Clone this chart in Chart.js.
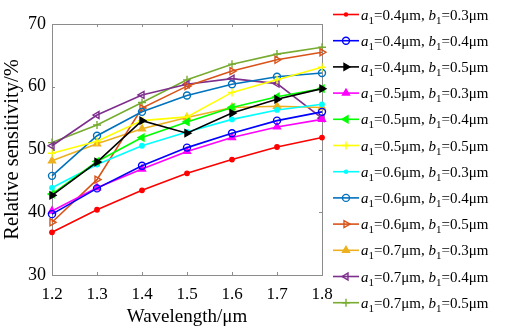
<!DOCTYPE html>
<html><head><meta charset="utf-8">
<script src="https://cdn.jsdelivr.net/npm/chart.js@4/dist/chart.umd.min.js"></script>
<style>html,body{margin:0;padding:0;background:#fff}#wrap{width:509px;height:328px}</style>
</head><body><div id="wrap"><canvas id="c" width="509" height="328"></canvas></div>
<script>
const wavelengths = ['1.2','1.3','1.4','1.5','1.6','1.7','1.8'];
const yTicks = [30,40,50,60,70];
const a1Values = ['0.4','0.4','0.4','0.5','0.5','0.5','0.6','0.6','0.6','0.7','0.7','0.7'];
const b1Values = ['0.3','0.4','0.5','0.3','0.4','0.5','0.3','0.4','0.5','0.3','0.4','0.5'];
const s_04_03 = [36.8,40.4,43.5,46.2,48.4,50.4,51.9];
const s_04_04 = [39.7,43.8,47.4,50.3,52.6,54.6,56.0];
const s_04_05 = [42.7,48.0,54.6,52.6,55.8,58.0,59.7];
const s_05_03 = [40.2,43.9,46.9,49.7,51.9,53.6,54.8];
const s_05_04 = [42.9,48.1,51.9,54.4,56.7,58.4,59.7];
const s_05_05 = [49.4,51.3,54.6,55.2,59.1,61.1,63.1];
const s_06_03 = [43.9,47.6,50.6,52.8,54.8,56.3,57.2];
const s_06_04 = [45.8,52.2,56.0,58.6,60.4,61.6,62.2];
const s_06_05 = [38.4,45.2,56.6,60.1,62.5,64.3,65.5];
const s_07_03 = [48.2,50.9,53.3,55.1,56.7,56.9,56.7];
const s_07_04 = [50.6,55.5,58.7,60.4,61.3,60.5,55.0];
const s_07_05 = [51.1,53.9,57.5,61.1,63.6,65.2,66.3];
const seriesValues = [s_04_03,s_04_04,s_04_05,s_05_03,s_05_04,s_05_05,s_06_03,s_06_04,s_06_05,s_07_03,s_07_04,s_07_05];
const colors = ['#FF0000','#0000FF','#000000','#FF00FF','#00FF00','#FFFF00','#00FFFF','#0072BD','#D95319','#EDB120','#7E2F8E','#77AC30'];
const markers = [
  {style:'circle',r:2.2,fill:true,rot:0},
  {style:'circle',r:3.5,fill:false,rot:0},
  {style:'triangle',r:4,fill:true,rot:90},
  {style:'triangle',r:4,fill:true,rot:0},
  {style:'triangle',r:4,fill:true,rot:-90},
  {style:'cross',r:4,fill:false,rot:0},
  {style:'circle',r:2.2,fill:true,rot:0},
  {style:'circle',r:3.5,fill:false,rot:0},
  {style:'triangle',r:4,fill:false,rot:90},
  {style:'triangle',r:4,fill:true,rot:0},
  {style:'triangle',r:4,fill:false,rot:-90},
  {style:'cross',r:4,fill:false,rot:0}
];
const SERIF = '"Liberation Serif","DejaVu Serif",serif';

const datasets = seriesValues.map((vals,i)=>({
  label: 'a1='+a1Values[i]+'μm, b1='+b1Values[i]+'μm',
  data: vals,
  borderColor: colors[i],
  backgroundColor: markers[i].fill ? colors[i] : 'rgba(255,255,255,0)',
  borderWidth: 1.6,
  pointStyle: markers[i].style,
  pointRadius: markers[i].r,
  pointRotation: markers[i].rot,
  pointBorderWidth: 1.4,
  pointHoverRadius: markers[i].r,
  tension: 0
}));

function drawMarker(ctx, m, color, x, y){
  ctx.save();
  ctx.strokeStyle = color; ctx.fillStyle = color; ctx.lineWidth = 1.4;
  ctx.beginPath();
  if(m.style==='circle'){
    ctx.arc(x,y,m.r,0,Math.PI*2);
    if(m.fill) ctx.fill(); else ctx.stroke();
  } else if(m.style==='cross'){
    ctx.moveTo(x-m.r,y); ctx.lineTo(x+m.r,y); ctx.moveTo(x,y-m.r); ctx.lineTo(x,y+m.r); ctx.stroke();
  } else {
    const a0 = m.rot*Math.PI/180;
    const r = m.r;
    for(let k=0;k<3;k++){
      const ang = a0 + k*2*Math.PI/3 - Math.PI/2;
      const px = x + r*Math.cos(ang), py = y + r*Math.sin(ang);
      if(k===0) ctx.moveTo(px,py); else ctx.lineTo(px,py);
    }
    ctx.closePath();
    if(m.fill) ctx.fill();
    ctx.stroke();
  }
  ctx.restore();
}

const framePlugin = {
  id:'frame',
  beforeDatasetsDraw(chart){
    const {ctx, chartArea:a, scales} = chart;
    ctx.save();
    ctx.strokeStyle = '#8c8c8c'; ctx.lineWidth = 1;
    ctx.strokeRect(a.left+0.5, a.top+0.5, a.right-a.left, a.bottom-a.top);
    ctx.beginPath();
    wavelengths.forEach((w,i)=>{
      const x = Math.round(scales.x.getPixelForValue(i))+0.5;
      ctx.moveTo(x,a.bottom); ctx.lineTo(x,a.bottom-3);
      ctx.moveTo(x,a.top); ctx.lineTo(x,a.top+3);
    });
    yTicks.forEach(v=>{
      const y = Math.round(scales.y.getPixelForValue(v))+0.5;
      ctx.moveTo(a.left,y); ctx.lineTo(a.left+3,y);
      ctx.moveTo(a.right,y); ctx.lineTo(a.right-3,y);
    });
    ctx.stroke();
    ctx.restore();
  },
  afterDraw(chart){
    const ctx = chart.ctx;
    ctx.save();
    ctx.textBaseline = 'alphabetic';
    const big = 15, small = 11;
    seriesValues.forEach((v,i)=>{
      const y = 14.5 + i*26.2;
      ctx.strokeStyle = colors[i]; ctx.lineWidth = 1.6;
      ctx.beginPath(); ctx.moveTo(333,y); ctx.lineTo(359,y); ctx.stroke();
      drawMarker(ctx, markers[i], colors[i], 346, y);
      let x = 361;
      const base = y + 5;
      ctx.fillStyle = '#000';
      const parts = [
        ['italic '+big+'px '+SERIF,'a',0],
        [small+'px '+SERIF,'1',4],
        [big+'px '+SERIF,'='+a1Values[i]+'μm, ',0],
        ['italic '+big+'px '+SERIF,'b',0],
        [small+'px '+SERIF,'1',4],
        [big+'px '+SERIF,'='+b1Values[i]+'μm',0]
      ];
      parts.forEach(p=>{
        ctx.font = p[0];
        ctx.fillText(p[1], x, base + p[2]);
        x += ctx.measureText(p[1]).width;
      });
    });
    ctx.restore();
  }
};

new Chart(document.getElementById('c'), {
  type:'line',
  data:{labels:wavelengths, datasets},
  options:{
    responsive:false, animation:false, devicePixelRatio:1,
    layout:{padding:{top:24,right:187,left:0,bottom:0}},
    plugins:{legend:{display:false}, tooltip:{enabled:false}},
    scales:{
      x:{
        type:'category', offset:false,
        grid:{display:false, drawTicks:false},
        border:{display:false},
        ticks:{color:'#000', font:{family:SERIF,size:17}, padding:9, maxRotation:0, autoSkip:false},
        title:{display:true, text:'Wavelength/μm', color:'#000', font:{family:SERIF,size:19}, padding:{top:0,bottom:0}},
        afterFit(s){ s.height = 53; }
      },
      y:{
        min:30, max:70,
        afterBuildTicks(s){ s.ticks = yTicks.map(v=>({value:v})); },
        grid:{display:false, drawTicks:false},
        border:{display:false},
        ticks:{color:'#000', font:{family:SERIF,size:18}, padding:6},
        title:{display:true, text:'Relative sensitivity/%', color:'#000', font:{family:SERIF,size:20.5}, padding:{top:0,bottom:0}},
        afterFit(s){ s.width = 52; }
      }
    }
  },
  plugins:[framePlugin]
});
</script></body></html>
